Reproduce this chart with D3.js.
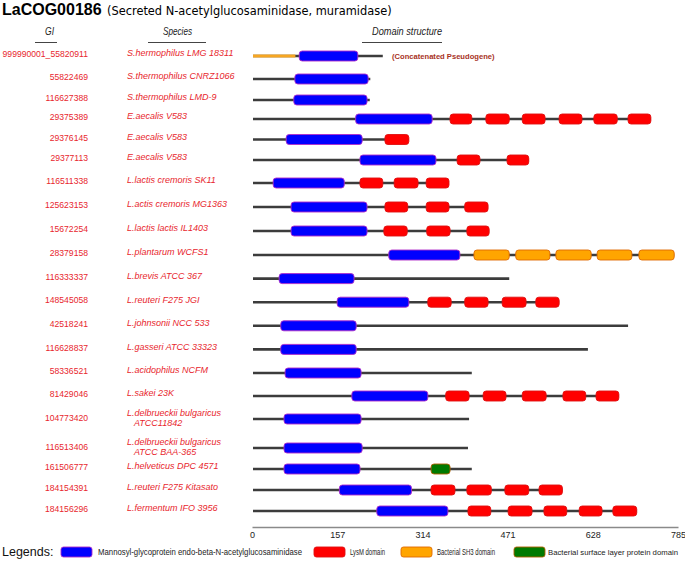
<!DOCTYPE html>
<html>
<head>
<meta charset="utf-8">
<script src="https://cdn.jsdelivr.net/npm/d3@7"></script>
<style>
  html, body { margin: 0; padding: 0; background: #fff; }
  svg { display: block; font-family: Arial, "Liberation Sans", Helvetica, sans-serif; }
</style>
</head>
<body>
<svg id="chart" width="685" height="562"></svg>
<script>
// ---------------- data ----------------
const giIds = ["999990001_55820911","55822469","116627388","29375389","29376145","29377113",
  "116511338","125623153","15672254","28379158","116333337","148545058","42518241",
  "116628837","58336521","81429046","104773420","116513406","161506777","184154391","184156296"];

const speciesNames = ["S.hermophilus LMG 18311","S.thermophilus CNRZ1066","S.thermophilus LMD-9",
  "E.aecalis V583","E.aecalis V583","E.aecalis V583","L.lactis cremoris SK11","L.actis cremoris MG1363",
  "L.lactis lactis IL1403","L.plantarum WCFS1","L.brevis ATCC 367","L.reuteri F275 JGI",
  "L.johnsonii NCC 533","L.gasseri ATCC 33323","L.acidophilus NCFM","L.sakei 23K",
  "L.delbrueckii bulgaricus|ATCC11842","L.delbrueckii bulgaricus|ATCC BAA-365",
  "L.helveticus DPC 4571","L.reuteri F275 Kitasato","L.fermentum IFO 3956"];

const proteinLength = [241,218,217,735,289,510,363,435,437,778,474,566,693,619,405,676,400,398,405,572,709];

// Mannosyl-glycoprotein endo-beta-N-acetylglucosaminidase domain (start, end)
const glucosaminidase = [[87,195],[79,214],[77,212],[191,332],[63,203],[199,339],[39,170],
  [72,212],[72,212],[252,383],[50,188],[157,289],[53,192],[53,192],[61,201],[184,324],
  [59,201],[59,203],[59,199],[161,294],[230,361]];

// LysM domains per protein
const lysM = [[],[],[],
  [[365,405],[431,474],[498,540],[566,608],[630,673],[693,735]],
  [[245,289]],
  [[378,420],[470,510]],
  [[199,241],[262,306],[321,363]],
  [[245,287],[321,363],[392,435]],
  [[243,286],[322,365],[396,437]],
  [],[],
  [[324,367],[392,435],[461,505],[523,566]],
  [],[],[],
  [[357,400],[426,468],[498,542],[573,615],[634,676]],
  [],[],[],
  [[330,374],[396,441],[466,510],[529,572]],
  [[398,440],[472,516],[538,580],[603,645],[665,709]]];

// Bacterial SH3 domains per protein (row index -> list)
const sh3 = {9: [[409,474],[486,549],[560,625],[636,700],[713,778]]};
// Bacterial surface layer protein domain
const slp = {18: [[330,365]]};
// Concatenated pseudogene segment (row 0)
const pseudoSegment = {0: [0,80]};
const rowNotes = {0: "(Concatenated Pseudogene)"};

const axisTicks = [0,157,314,471,628,785];

const legendNames = ["Mannosyl-glycoprotein endo-beta-N-acetylglucosaminidase","LysM domain",
  "Bacterial SH3 domain","Bacterial surface layer protein domain"];

// ---------------- styles ----------------
const colors = {
  gluc: {fill:"#0000ff", stroke:"#b02cc8"},
  lysm: {fill:"#ff0000", stroke:"#e01010"},
  sh3:  {fill:"#ffa500", stroke:"#e06a00"},
  slp:  {fill:"#007a00", stroke:"#b06000"}
};
const labelRed = "#e8262d";

const svg = d3.select("#chart");

const x = d3.scaleLinear().domain([0,785]).range([252,678]);
const rowY = d3.scaleLinear()
  .domain([0,1,2,3,5,6,9,14,15,16,17,18,20])
  .range([56,79,100,119,160,183,255,373,396,419,448,469,511]);

// ---------------- title ----------------
svg.append("text").attr("x",2).attr("y",15).attr("font-size",16).attr("font-weight","bold")
  .attr("fill","#000").text("LaCOG00186");
svg.append("text").attr("x",107).attr("y",15).attr("font-size",11.4)
  .attr("font-family","'DejaVu Sans', Verdana, sans-serif").attr("fill","#000")
  .text("(Secreted N-acetylglucosaminidase, muramidase)");

// ---------------- headers ----------------
const headers = [
  {t:"GI", x:45, w:9, ux:[35,57]},
  {t:"Species", x:163, w:29, ux:[148,206]},
  {t:"Domain structure", x:372, w:70, ux:[362,442]}
];
headers.forEach(h => {
  svg.append("text").attr("x",h.x).attr("y",35).attr("font-size",10.5).attr("font-style","italic")
    .attr("fill","#222").attr("textLength",h.w).attr("lengthAdjust","spacingAndGlyphs").text(h.t);
  svg.append("line").attr("x1",h.ux[0]).attr("x2",h.ux[1]).attr("y1",42.5).attr("y2",42.5)
    .attr("stroke","#444").attr("stroke-width",1);
});

// ---------------- rows ----------------
const rows = d3.range(giIds.length);

// GI labels
svg.append("g").selectAll("text").data(rows).join("text")
  .attr("x",88).attr("y",i => rowY(i) + (speciesNames[i].includes("|") ? 2 : 1.2))
  .attr("text-anchor","end").attr("font-size",8.6).attr("fill",labelRed)
  .text(i => giIds[i]);

// species labels
const sp = svg.append("g").selectAll("text").data(rows).join("text")
  .attr("font-size",9).attr("font-style","italic").attr("fill",labelRed);
sp.each(function(i){
  const parts = speciesNames[i].split("|");
  const t = d3.select(this);
  if (parts.length === 1) {
    t.attr("x",127).attr("y",rowY(i)+0.3).text(parts[0]);
  } else {
    t.append("tspan").attr("x",127).attr("y",rowY(i)-2.8).text(parts[0]);
    t.append("tspan").attr("x",134).attr("y",rowY(i)+7.2).text(parts[1]);
  }
});

// protein backbone lines
const g = svg.append("g");
g.selectAll("line.backbone").data(rows).join("line").attr("class","backbone")
  .attr("x1",x(0)+1).attr("x2",i => x(proteinLength[i]))
  .attr("y1",i => rowY(i)).attr("y2",i => rowY(i))
  .attr("stroke","#3c3c3c").attr("stroke-width",2.6);

// pseudogene orange segment
Object.entries(pseudoSegment).forEach(([r,seg]) => {
  g.append("line").attr("x1",x(seg[0])+1).attr("x2",x(seg[1])).attr("y1",rowY(+r)).attr("y2",rowY(+r))
    .attr("stroke","#f6a623").attr("stroke-width",2.8);
});

const boxH = 10;
function drawBoxes(list, style) {
  g.selectAll(null).data(list).join("rect")
    .attr("x",d => x(d.s)).attr("width",d => x(d.e)-x(d.s))
    .attr("y",d => rowY(d.r)-boxH/2).attr("height",boxH)
    .attr("rx",3).attr("ry",3)
    .attr("fill",style.fill).attr("stroke",style.stroke).attr("stroke-width",0.9);
}
drawBoxes(glucosaminidase.map((d,r) => ({r, s:d[0], e:d[1]})), colors.gluc);
drawBoxes(lysM.flatMap((l,r) => l.map(d => ({r, s:d[0], e:d[1]}))), colors.lysm);
drawBoxes(Object.entries(sh3).flatMap(([r,l]) => l.map(d => ({r:+r, s:d[0], e:d[1]}))), colors.sh3);
drawBoxes(Object.entries(slp).flatMap(([r,l]) => l.map(d => ({r:+r, s:d[0], e:d[1]}))), colors.slp);

// notes
Object.entries(rowNotes).forEach(([r,t]) => {
  svg.append("text").attr("x",392).attr("y",rowY(+r)+2.6).attr("font-size",7.6)
    .attr("font-weight","bold").attr("fill","#a8321e").text(t);
});

// ---------------- axis ----------------
const ax = svg.append("g").attr("transform","translate(0,527)")
  .call(d3.axisBottom(x).tickValues(axisTicks).tickSize(0).tickSizeOuter(0).tickPadding(5));
ax.select(".domain").attr("stroke","#8a8a8a").attr("stroke-width",1.5);
ax.selectAll("text").attr("font-size",9).attr("fill","#222")
  .attr("font-family","Arial, 'Liberation Sans', sans-serif");

// ---------------- legend ----------------
svg.append("text").attr("x",2).attr("y",556).attr("font-size",12.5).attr("fill","#111").text("Legends:");
const legendStyles = [colors.gluc, colors.lysm, colors.sh3, colors.slp];
const legendLayout = [
  {sx:61, tx:98, tw:204, fs:8.6},
  {sx:314, tx:350, tw:35, fs:8.6},
  {sx:401, tx:437, tw:58, fs:8.6},
  {sx:514, tx:548, tw:130, fs:7.6}
];
legendNames.forEach((name,i) => {
  const L = legendLayout[i];
  svg.append("rect").attr("x",L.sx).attr("y",547).attr("width",31).attr("height",10)
    .attr("rx",2.5).attr("fill",legendStyles[i].fill).attr("stroke",legendStyles[i].stroke).attr("stroke-width",0.9);
  svg.append("text").attr("x",L.tx).attr("y",555).attr("font-size",L.fs).attr("fill","#222")
    .attr("textLength",L.tw).attr("lengthAdjust","spacingAndGlyphs").text(name);
});
</script>
</body>
</html>
